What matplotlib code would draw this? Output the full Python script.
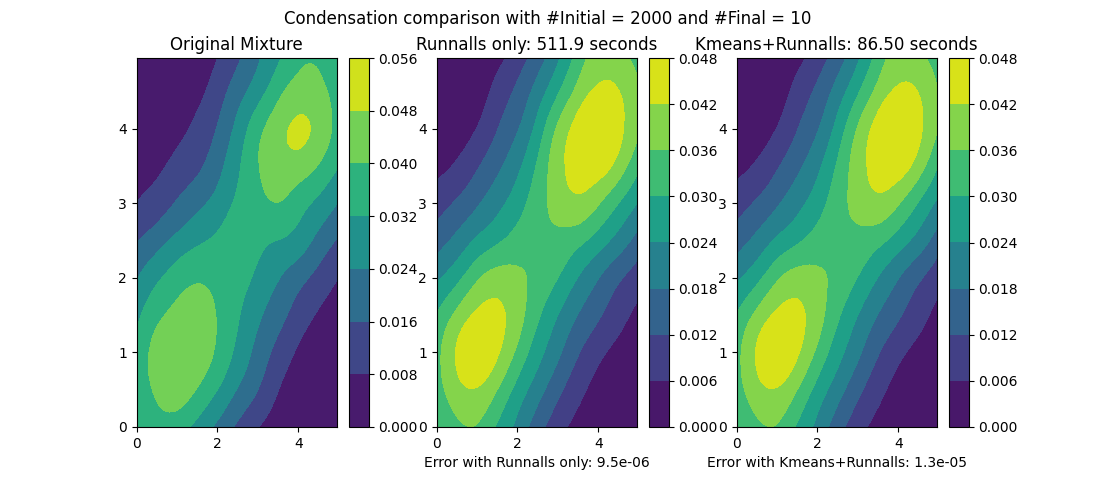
#!/usr/bin/env python3
"""Three filled contour panels comparing mixture condensation results."""
import matplotlib
matplotlib.use("Agg")
import matplotlib.pyplot as plt
import matplotlib.tri as mtri
import numpy as np

grid_x = [0, 0.5, 1, 1.5, 2, 2.5, 3, 3.5, 4, 4.5, 5]
grid_y = [0, 0.5, 1, 1.5, 2, 2.5, 3, 3.5, 4, 4.5, 5]

# density, one row per grid_y value
original = [
    [.0320, .0365, .0355, .0295, .0222, .0145, .0082, .0042, .0020, .0010, .0004],
    [.0345, .0415, .0445, .0395, .0320, .0235, .0160, .0082, .0040, .0020, .0010],
    [.0345, .0430, .0470, .0450, .0385, .0298, .0212, .0132, .0070, .0036, .0020],
    [.0300, .0380, .0425, .0440, .0395, .0328, .0255, .0190, .0122, .0072, .0040],
    [.0235, .0305, .0360, .0390, .0378, .0352, .0302, .0245, .0190, .0132, .0080],
    [.0155, .0205, .0262, .0305, .0335, .0358, .0340, .0318, .0285, .0215, .0150],
    [.0083, .0118, .0168, .0218, .0270, .0335, .0375, .0398, .0355, .0300, .0235],
    [.0043, .0065, .0102, .0143, .0212, .0305, .0395, .0445, .0445, .0395, .0320],
    [.0020, .0035, .0060, .0098, .0165, .0265, .0372, .0450, .0492, .0455, .0365],
    [.0008, .0015, .0032, .0060, .0120, .0203, .0285, .0375, .0435, .0425, .0360],
    [.0003, .0006, .0014, .0030, .0075, .0140, .0225, .0300, .0375, .0385, .0335],
]
runnalls = [
    [.0305, .0345, .0355, .0292, .0223, .0145, .0082, .0042, .0022, .0010, .0004],
    [.0332, .0398, .0415, .0360, .0278, .0205, .0136, .0078, .0040, .0020, .0010],
    [.0340, .0425, .0465, .0428, .0346, .0263, .0192, .0125, .0075, .0042, .0022],
    [.0302, .0375, .0432, .0435, .0385, .0310, .0240, .0178, .0128, .0082, .0045],
    [.0228, .0282, .0350, .0385, .0372, .0345, .0300, .0238, .0182, .0130, .0088],
    [.0153, .0197, .0250, .0290, .0325, .0350, .0345, .0318, .0270, .0215, .0155],
    [.0092, .0128, .0172, .0220, .0272, .0335, .0382, .0405, .0365, .0300, .0235],
    [.0043, .0068, .0113, .0165, .0225, .0308, .0398, .0445, .0450, .0395, .0310],
    [.0018, .0032, .0062, .0118, .0175, .0262, .0370, .0445, .0478, .0438, .0365],
    [.0006, .0012, .0030, .0080, .0133, .0205, .0292, .0380, .0432, .0422, .0368],
    [.0003, .0006, .0014, .0038, .0085, .0145, .0225, .0320, .0385, .0375, .0335],
]
kmeans = [
    [.0305, .0345, .0355, .0292, .0223, .0145, .0082, .0042, .0022, .0010, .0004],
    [.0332, .0398, .0415, .0360, .0278, .0205, .0136, .0078, .0040, .0020, .0010],
    [.0340, .0425, .0465, .0428, .0346, .0263, .0192, .0125, .0075, .0042, .0022],
    [.0302, .0375, .0432, .0435, .0385, .0310, .0240, .0178, .0128, .0082, .0043],
    [.0228, .0282, .0350, .0385, .0372, .0345, .0298, .0238, .0182, .0130, .0082],
    [.0153, .0197, .0250, .0290, .0325, .0348, .0342, .0318, .0270, .0215, .0148],
    [.0092, .0128, .0172, .0220, .0272, .0335, .0380, .0403, .0365, .0296, .0225],
    [.0043, .0068, .0113, .0165, .0225, .0308, .0392, .0445, .0450, .0390, .0296],
    [.0018, .0032, .0062, .0118, .0175, .0262, .0365, .0445, .0474, .0434, .0355],
    [.0006, .0012, .0030, .0080, .0133, .0205, .0292, .0380, .0430, .0418, .0358],
    [.0003, .0006, .0014, .0038, .0085, .0145, .0225, .0320, .0383, .0370, .0330],
]

levels_original = [0, .008, .016, .024, .032, .040, .048, .056]
levels_condensed = [0, .006, .012, .018, .024, .030, .036, .042, .048]
tick_fmt = "%.3f"

titles = ["Original Mixture", "Runnalls only: 511.9 seconds", "Kmeans+Runnalls: 86.50 seconds"]
xlabels = ["", "Error with Runnalls only: 9.5e-06", "Error with Kmeans+Runnalls: 1.3e-05"]
suptitle = "Condensation comparison with #Initial = 2000 and #Final = 10"

W, H = 1096, 480


def px_axes(fig, left, top, right, bottom):
    return fig.add_axes([left / W, 1 - bottom / H, (right - left) / W, (bottom - top) / H])


def main():
    fig = plt.figure(figsize=(W / 100, H / 100), dpi=100)
    gx, gy = np.meshgrid(grid_x, grid_y)
    triang = mtri.Triangulation(gx.ravel(), gy.ravel())
    refiner = mtri.UniformTriRefiner(triang)

    fields = [original, runnalls, kmeans]
    level_sets = [levels_original, levels_condensed, levels_condensed]
    lefts = [136.6, 436.6, 736.6]
    for i in range(3):
        left = lefts[i]
        ax = px_axes(fig, left, 58, left + 200, 427)
        z = np.array(fields[i]).ravel()
        interp = mtri.CubicTriInterpolator(triang, z, kind="min_E")
        fine_tri, fine_z = refiner.refine_field(z, triinterpolator=interp, subdiv=3)
        # the spline can overshoot the outer levels, which would leave holes
        fine_z = np.clip(fine_z, level_sets[i][0], level_sets[i][-1] - 1e-5)
        cs = ax.tricontourf(fine_tri, fine_z, levels=level_sets[i], cmap="viridis")
        ax.set_xlim(0, 4.95)
        ax.set_ylim(0, 4.95)
        ax.set_xticks([0, 2, 4])
        ax.set_yticks([0, 1, 2, 3, 4])
        ax.set_title(titles[i], fontsize=12)
        if xlabels[i]:
            ax.set_xlabel(xlabels[i])
        cax = px_axes(fig, left + 212, 58, left + 232, 427)
        fig.colorbar(cs, cax=cax, format=tick_fmt)

    fig.suptitle(suptitle, fontsize=12)
    fig.savefig("out.png", dpi=100)


if __name__ == "__main__":
    main()
